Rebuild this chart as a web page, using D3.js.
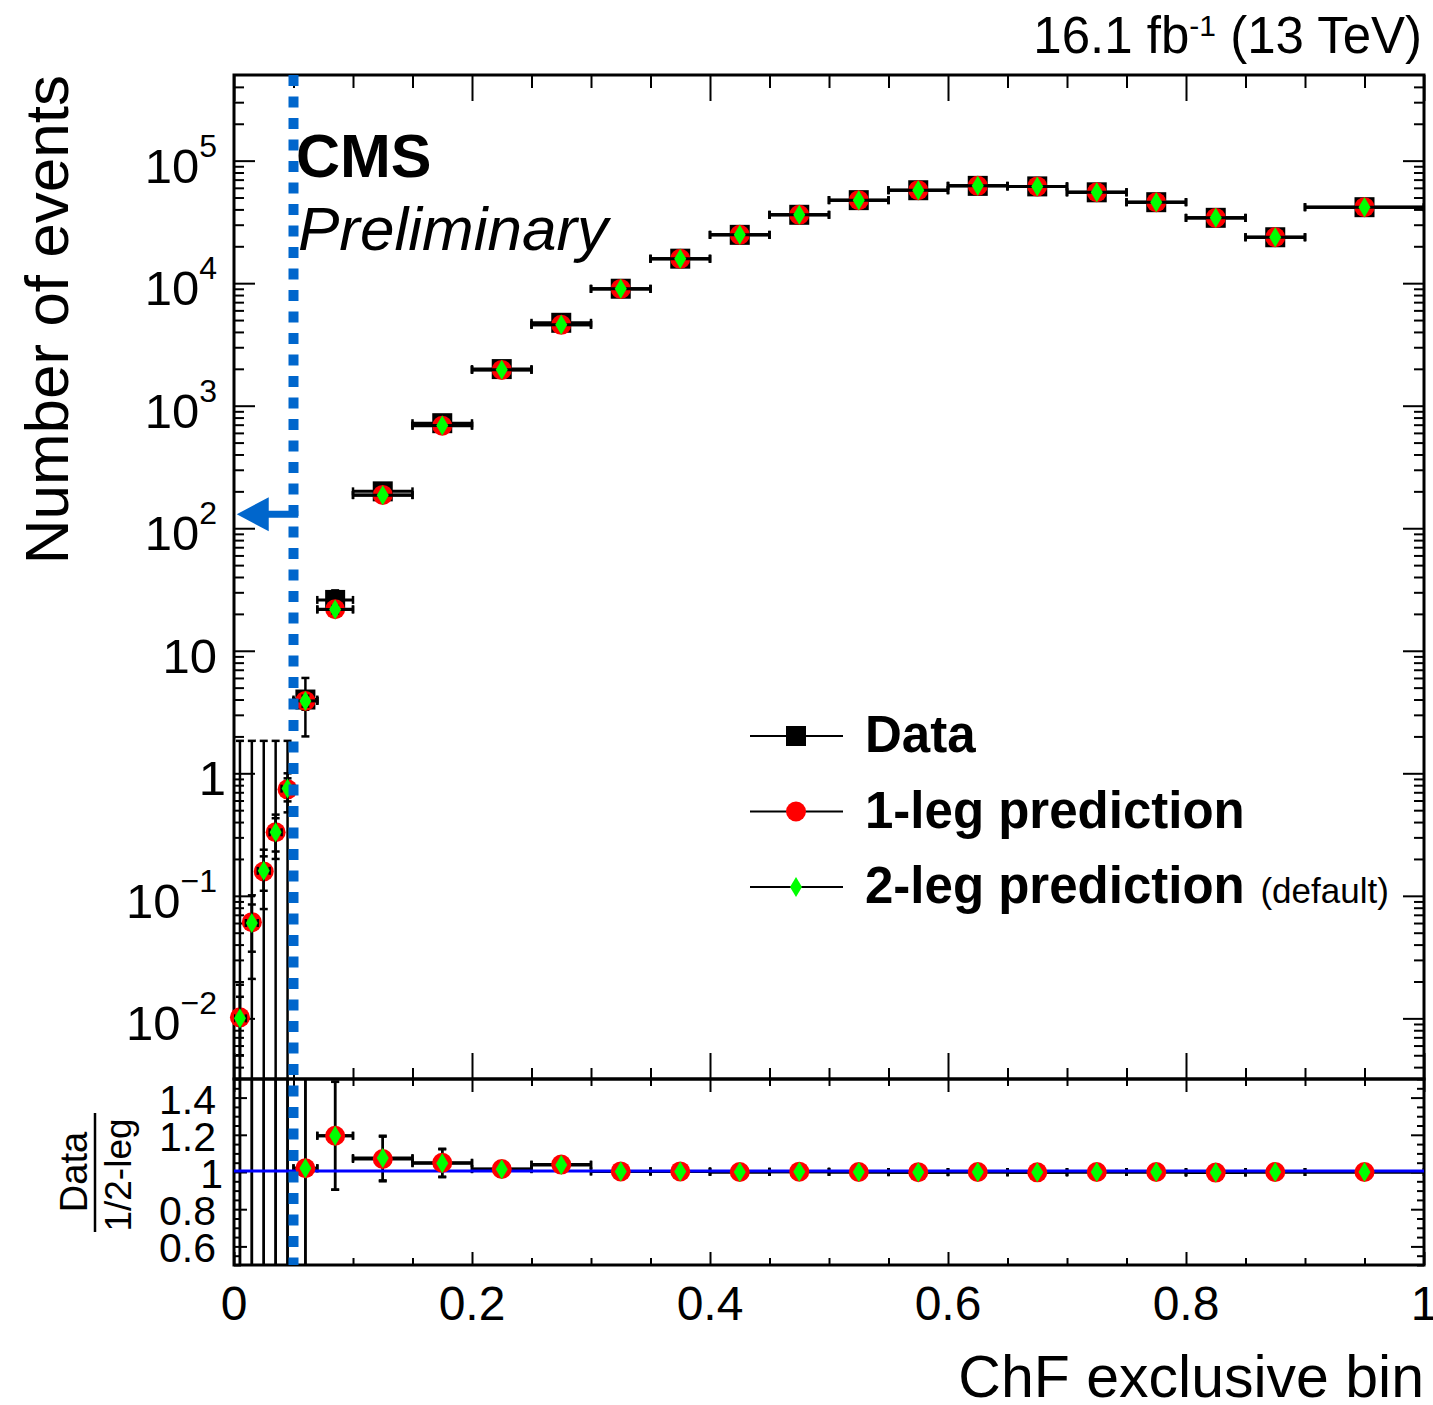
<!DOCTYPE html>
<html>
<head>
<meta charset="utf-8">
<script src="https://cdn.jsdelivr.net/npm/d3@7"></script>
<style>
  html, body { margin: 0; padding: 0; background: #fff; }
  svg { display: block; font-family: 'Liberation Sans', Arial, Helvetica, sans-serif; }
</style>
</head>
<body>
<svg id="chart" width="1433" height="1405"></svg>
<script>
// ChF exclusive bins
const binLo = [0, 0.01, 0.02, 0.03, 0.04, 0.05, 0.07, 0.1, 0.15, 0.2, 0.25, 0.3, 0.35, 0.4, 0.45, 0.5, 0.55, 0.6, 0.65, 0.7, 0.75, 0.8, 0.85, 0.9];
const binHi = [0.01, 0.02, 0.03, 0.04, 0.05, 0.07, 0.1, 0.15, 0.2, 0.25, 0.3, 0.35, 0.4, 0.45, 0.5, 0.55, 0.6, 0.65, 0.7, 0.75, 0.8, 0.85, 0.9, 1.0];

// observed events
const dataVals = [0, 0, 0, 0, 0, 4, 26, 200, 720, 1990, 4750, 9010, 15850, 24800, 36150, 47600, 57350, 62250, 61650, 55150, 45800, 34150, 23700, 41700];
const dataErr = [1.84, 1.84, 1.84, 1.84, 1.84, 2, 5.1, 14, 27, 45, 69, 95, 126, 157, 190, 218, 239, 249, 248, 235, 214, 185, 154, 204];

// 1-leg prediction
const pred1 = [0.0102, 0.061, 0.158, 0.33, 0.74, 3.9, 21.8, 187, 686, 1960, 4570, 8980, 15800, 24800, 36100, 47600, 57400, 62300, 61600, 55200, 45800, 34100, 23700, 41700];
const pred1Err = [0.0086, 0.04, 0.08, 0.13, 0.26, 0.6, 2, 8, 20, 40, 70, 100, 150, 200, 250, 300, 340, 360, 360, 340, 300, 260, 210, 280];

// 2-leg prediction (default)
const pred2 = [0.0100, 0.060, 0.160, 0.33, 0.75, 3.9, 21.7, 186, 688, 1962, 4575, 8985, 15810, 24790, 36120, 47580, 57410, 62290, 61620, 55190, 45810, 34120, 23710, 41690];
const pred2Err = [0.005, 0.025, 0.05, 0.1, 0.16, 0.4, 1.5, 6, 15, 30, 50, 80, 120, 160, 200, 240, 270, 290, 290, 270, 240, 210, 170, 230];

// Data / prediction
const ratio1 = [0, 0, 0, 0, 0, 1.02, 1.195, 1.07, 1.05, 1.016, 1.04, 1.003, 1.003, 1.0, 1.002, 1.0, 0.999, 1.0, 0.998, 1.0, 1.0, 0.997, 1.0, 1.0];
const ratio2 = [0, 0, 0, 0, 0, 1.02, 1.195, 1.075, 1.047, 1.015, 1.038, 1.003, 1.003, 1.0, 1.001, 1.0, 0.999, 1.0, 0.998, 1.0, 1.0, 0.997, 1.0, 1.0];
const ratioErr = [200, 30, 12, 6, 2.5, 0.55, 0.29, 0.12, 0.075, 0.04, 0.03, 0.02, 0.015, 0.012, 0.01, 0.009, 0.008, 0.008, 0.008, 0.008, 0.008, 0.009, 0.01, 0.008];

const xMajor = [0, 0.2, 0.4, 0.6, 0.8, 1];
const xLabels = ['0', '0.2', '0.4', '0.6', '0.8', '1'];
const yMajor = [1e-2, 1e-1, 1, 10, 1e2, 1e3, 1e4, 1e5];
const yLabels = [['10', '\u22122'], ['10', '\u22121'], ['1', ''], ['10', ''], ['10', '2'], ['10', '3'], ['10', '4'], ['10', '5']];
const rMajor = [0.6, 0.8, 1, 1.2, 1.4];
const rLabels = ['0.6', '0.8', '1', '1.2', '1.4'];
const legendNames = ['Data', '1-leg prediction', '2-leg prediction'];

const svg = d3.select('#chart');

const L = 234, R = 1424, T = 75, MB = 1079, RB = 1265;
const x = d3.scaleLinear().domain([0, 1]).range([L, R]);
const y = d3.scaleLog().domain([0.0032, 5e5]).range([MB, T]);
const yr = d3.scaleLinear().domain([0.5, 1.5]).range([RB, MB]);

const defs = svg.append('defs');
defs.append('clipPath').attr('id', 'clipMain').append('rect')
	.attr('x', L).attr('y', T).attr('width', R - L).attr('height', MB - T);
defs.append('clipPath').attr('id', 'clipRatio').append('rect')
	.attr('x', L).attr('y', MB).attr('width', R - L).attr('height', RB - MB);

// minor tick positions
const xMinor = d3.range(0, 1.0001, 0.05).filter(v => !xMajor.some(m => Math.abs(m - v) < 1e-6));
const yMinor = [];
for (let e = -3; e <= 5; e++) {
	for (let k = 2; k <= 9; k++) {
		const v = k * Math.pow(10, e);
		if (v > y.domain()[0] && v < y.domain()[1]) yMinor.push(v);
	}
}
const rMinor = d3.range(0.5, 1.5001, 0.05).filter(v => !rMajor.some(m => Math.abs(m - v) < 1e-6));

function tickSet(axis, tx, ty, vals, len) {
	const g = svg.append('g').attr('transform', `translate(${tx},${ty})`);
	g.call(axis.tickValues(vals).tickSize(len).tickFormat(''));
	g.select('.domain').remove();
	g.selectAll('text').remove();
	g.selectAll('line').attr('stroke', '#000').attr('stroke-width', 2);
}

// main panel ticks
tickSet(d3.axisTop(x), 0, T, xMajor, -26);
tickSet(d3.axisTop(x), 0, T, xMinor, -13);
tickSet(d3.axisBottom(x), 0, MB, xMajor, -26);
tickSet(d3.axisBottom(x), 0, MB, xMinor, -11);
tickSet(d3.axisLeft(y), L, 0, yMajor, -21);
tickSet(d3.axisLeft(y), L, 0, yMinor, -10);
tickSet(d3.axisRight(y), R, 0, yMajor, -21);
tickSet(d3.axisRight(y), R, 0, yMinor, -10);

// ratio panel ticks
tickSet(d3.axisTop(x), 0, MB, xMajor, -13);
tickSet(d3.axisTop(x), 0, MB, xMinor, -7);
tickSet(d3.axisBottom(x), 0, RB, xMajor, -13);
tickSet(d3.axisBottom(x), 0, RB, xMinor, -7);
tickSet(d3.axisLeft(yr), L, 0, rMajor, -13);
tickSet(d3.axisLeft(yr), L, 0, rMinor, -7);
tickSet(d3.axisRight(yr), R, 0, rMajor, -13);
tickSet(d3.axisRight(yr), R, 0, rMinor, -7);

// frames
svg.append('rect').attr('x', L).attr('y', T).attr('width', R - L).attr('height', MB - T)
	.attr('fill', 'none').attr('stroke', '#000').attr('stroke-width', 3);
svg.append('rect').attr('x', L).attr('y', MB).attr('width', R - L).attr('height', RB - MB)
	.attr('fill', 'none').attr('stroke', '#000').attr('stroke-width', 3);

// tick labels
const xl = svg.append('g').attr('font-size', 48).attr('text-anchor', 'middle');
xMajor.forEach((v, i) => {
	xl.append('text').attr('x', x(v)).attr('y', 1320).text(xLabels[i]);
});

const yl = svg.append('g').attr('font-size', 49).attr('text-anchor', 'end');
yMajor.forEach((v, i) => {
	const [base, sup] = yLabels[i];
	const t = yl.append('text')
		.attr('x', base === '1' ? 226 : 217)
		.attr('y', y(v) + 22);
	t.append('tspan').text(base);
	if (sup) {
		t.append('tspan').attr('font-size', 32).attr('dy', -26).text(sup);
	}
});

const rl = svg.append('g').attr('font-size', 41).attr('text-anchor', 'end');
rMajor.forEach((v, i) => {
	rl.append('text').attr('x', rLabels[i] === '1' ? 223 : 216).attr('y', yr(v) + 16).text(rLabels[i]);
});

// axis titles
svg.append('text').attr('font-size', 62).attr('text-anchor', 'end')
	.attr('transform', 'translate(68,75) rotate(-90)').text('Number of events');
svg.append('text').attr('font-size', 59).attr('text-anchor', 'end')
	.attr('x', R).attr('y', 1397).text('ChF exclusive bin');

const rt = svg.append('g').attr('font-size', 38).attr('text-anchor', 'middle');
rt.append('text').attr('transform', 'translate(87,1172) rotate(-90)').text('Data');
rt.append('text').attr('font-size', 37).attr('transform', 'translate(131,1175) rotate(-90)').text('1/2-leg');
svg.append('line').attr('x1', 95).attr('x2', 95).attr('y1', 1113).attr('y2', 1232)
	.attr('stroke', '#000').attr('stroke-width', 2.5);

// header texts
const lumi = svg.append('text').attr('font-size', 51).attr('text-anchor', 'end')
	.attr('x', 1422).attr('y', 53);
lumi.append('tspan').text('16.1 fb');
lumi.append('tspan').attr('font-size', 30).attr('dy', -17).text('-1');
lumi.append('tspan').attr('dy', 17).text(' (13 TeV)');

svg.append('text').attr('x', 296).attr('y', 177).attr('font-size', 61)
	.attr('font-weight', 'bold').text('CMS');
svg.append('text').attr('x', 298).attr('y', 250).attr('font-size', 62)
	.attr('font-style', 'italic').text('Preliminary');

// ---- data drawing helpers ----
function errorBars(clipId, ys, vals, errs, logScale) {
	const g = svg.append('g').attr('clip-path', `url(#${clipId})`)
		.attr('stroke', '#000').attr('stroke-width', 2.5);
	const bottom = ys.range()[0] + 5;
	vals.forEach((v, i) => {
		const cx = x((binLo[i] + binHi[i]) / 2);
		const lo = v - errs[i];
		const hi = v + errs[i];
		const pyLo = (logScale && lo <= 0) ? bottom : ys(lo);
		const pyHi = ys(hi);
		g.append('line').attr('x1', cx).attr('x2', cx).attr('y1', pyLo).attr('y2', pyHi);
		g.append('line').attr('x1', cx - 4).attr('x2', cx + 4).attr('y1', pyHi).attr('y2', pyHi);
		g.append('line').attr('x1', cx - 4).attr('x2', cx + 4).attr('y1', pyLo).attr('y2', pyLo);
		if (logScale && v <= 0) return;
		const py = ys(v);
		const x0 = x(binLo[i]);
		const x1 = x(binHi[i]);
		g.append('line').attr('x1', x0).attr('x2', x1).attr('y1', py).attr('y2', py).attr('stroke-width', 3);
		g.append('line').attr('x1', x0).attr('x2', x0).attr('y1', py - 4).attr('y2', py + 4);
		g.append('line').attr('x1', x1).attr('x2', x1).attr('y1', py - 4).attr('y2', py + 4);
	});
}

const diamond = 'M0,-10 L6,0 L0,10 L-6,0 Z';

function markers(ys, vals, kind) {
	const [dmin, dmax] = ys.domain();
	const pts = vals.map((v, i) => ({v, c: (binLo[i] + binHi[i]) / 2}))
		.filter(d => d.v > dmin && d.v < dmax);
	const g = svg.append('g');
	if (kind === 'square') {
		g.selectAll('rect').data(pts).join('rect')
			.attr('x', d => x(d.c) - 10).attr('y', d => ys(d.v) - 10)
			.attr('width', 20).attr('height', 20).attr('fill', '#000');
	} else if (kind === 'circle') {
		g.selectAll('circle').data(pts).join('circle')
			.attr('cx', d => x(d.c)).attr('cy', d => ys(d.v)).attr('r', 10).attr('fill', '#ff0000');
	} else {
		g.selectAll('path').data(pts).join('path')
			.attr('d', diamond).attr('fill', '#00ff00')
			.attr('transform', d => `translate(${x(d.c)},${ys(d.v)})`);
	}
}

// main panel
errorBars('clipMain', y, dataVals, dataErr, true);
markers(y, dataVals, 'square');
errorBars('clipMain', y, pred1, pred1Err, true);
markers(y, pred1, 'circle');
errorBars('clipMain', y, pred2, pred2Err, true);
markers(y, pred2, 'diamond');

// ratio panel
errorBars('clipRatio', yr, ratio1, ratioErr, false);
errorBars('clipRatio', yr, ratio2, ratioErr, false);
svg.append('line').attr('x1', L).attr('x2', R).attr('y1', yr(1) - 1).attr('y2', yr(1) - 1)
	.attr('stroke', '#0000ff').attr('stroke-width', 3);
markers(yr, ratio1, 'circle');
markers(yr, ratio2, 'diamond');

// ChF cut line and arrow
const cutBlue = '#0066cc';
svg.append('line').attr('x1', x(0.05)).attr('x2', x(0.05)).attr('y1', T).attr('y2', RB)
	.attr('stroke', cutBlue).attr('stroke-width', 10).attr('stroke-dasharray', '11,10.5');
const ay = y(130);
const tipX = x(0.0023);
const tailX = x(0.054);
svg.append('path')
	.attr('d', `M${tipX},${ay} L${tipX + 32},${ay - 17} L${tipX + 32},${ay - 3.5} L${tailX},${ay - 3.5} L${tailX},${ay + 3.5} L${tipX + 32},${ay + 3.5} L${tipX + 32},${ay + 17} Z`)
	.attr('fill', cutBlue);

// legend
const legY0 = 736;
const legStep = 75.5;
const leg = svg.append('g');
legendNames.forEach((name, i) => {
	const ly = legY0 + i * legStep;
	leg.append('line').attr('x1', 750).attr('x2', 843).attr('y1', ly).attr('y2', ly)
		.attr('stroke', '#000').attr('stroke-width', 2);
	if (i === 0) {
		leg.append('rect').attr('x', 786).attr('y', ly - 10).attr('width', 20).attr('height', 20).attr('fill', '#000');
	} else if (i === 1) {
		leg.append('circle').attr('cx', 796).attr('cy', ly).attr('r', 10).attr('fill', '#ff0000');
	} else {
		leg.append('path').attr('d', diamond).attr('fill', '#00ff00').attr('transform', `translate(796,${ly})`);
	}
	const t = leg.append('text').attr('x', 865).attr('y', ly + 16)
		.attr('font-size', 51).attr('font-weight', 'bold');
	t.append('tspan').text(name);
	if (i === 2) {
		t.append('tspan').attr('font-size', 35).attr('font-weight', 'normal').attr('dx', 6).text(' (default)');
	}
});
</script>
</body>
</html>
